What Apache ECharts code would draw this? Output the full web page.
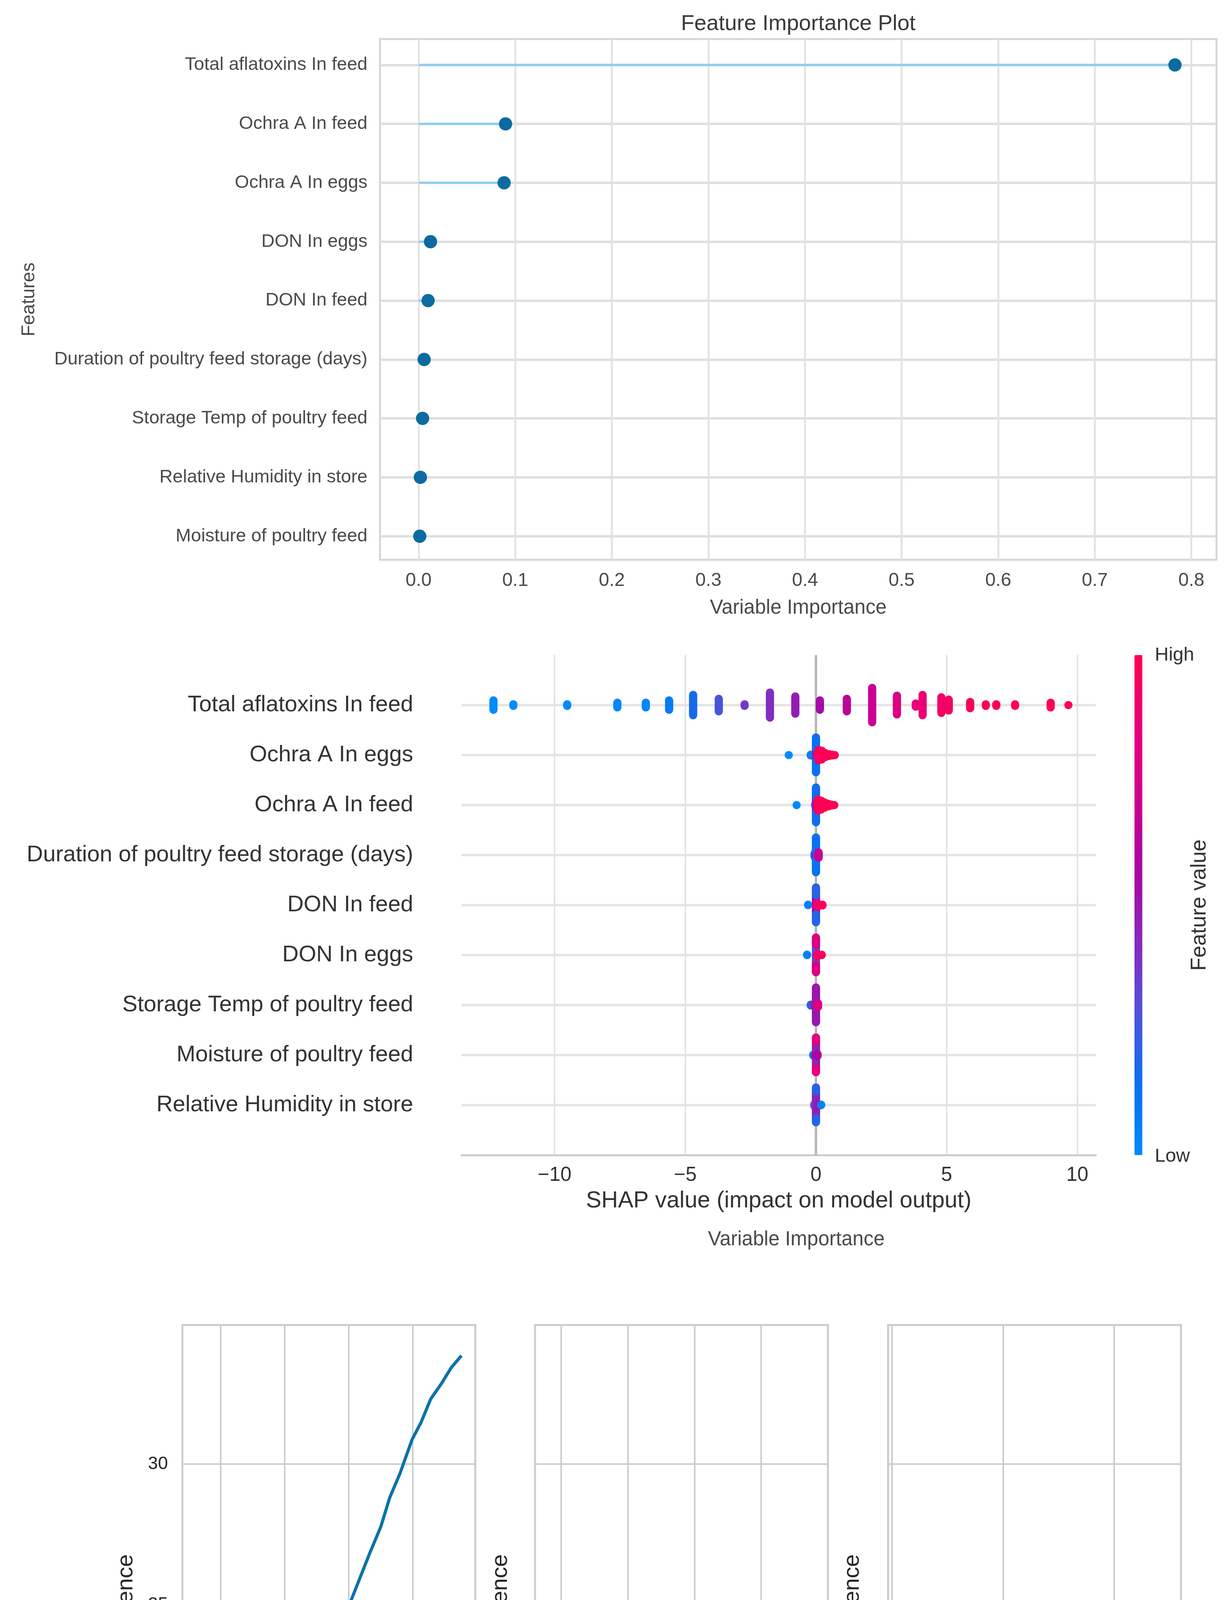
<!DOCTYPE html>
<html>
<head>
<meta charset="utf-8">
<script src="https://cdn.jsdelivr.net/npm/echarts@6/dist/echarts.min.js"></script>
<style>html,body{margin:0;padding:0;background:#ffffff}#c{width:3147px;height:5252px}</style>
</head>
<body>
<div id="c"></div>
<script>
// ---------- Panel 1: feature importance (top to bottom) ----------
const importanceFeatures = ['Total aflatoxins In feed','Ochra A In feed','Ochra A In eggs','DON In eggs','DON In feed','Duration of poultry feed storage (days)','Storage Temp of poultry feed','Relative Humidity in store','Moisture of poultry feed'];
const importanceValues = [0.783, 0.090, 0.0885, 0.0123, 0.0098, 0.0057, 0.0041, 0.0018, 0.0012];
const importanceTicks = [0, 0.1, 0.2, 0.3, 0.4, 0.5, 0.6, 0.7, 0.8];

// ---------- Panel 2: SHAP summary (top to bottom) ----------
const shapFeatures = ['Total aflatoxins In feed','Ochra A In eggs','Ochra A In feed','Duration of poultry feed storage (days)','DON In feed','DON In eggs','Storage Temp of poultry feed','Moisture of poultry feed','Relative Humidity in store'];
const shapTicks = [-10, -5, 0, 5, 10];
// clusters: [shap value, number of samples, normalised feature value]
const shapTotalAflatoxins = [[-12.34,13,0.0],[-11.58,3,0.0],[-9.52,3,0.01],[-7.6,7,0.02],[-6.51,7,0.03],[-5.62,13,0.08],[-4.70,27,0.17],[-3.72,17,0.27],[-2.73,3,0.36],[-1.76,33,0.41],[-0.79,23,0.47],[0.15,13,0.54],[1.18,17,0.64],[2.15,45,0.71],[3.1,25,0.79],[3.82,5,0.85],[4.08,27,0.88],[4.8,21,0.93],[5.08,15,0.94],[5.9,9,0.96],[6.5,3,0.97],[6.9,3,0.98],[7.62,3,0.98],[8.98,7,0.99],[9.66,1,1.0]];
const shapOchraEggs = [[-1.04,1,0.0],[-0.2,3,0.05],[0.0,12,0.95],[0.0,20,0.45],[0.0,48,0.12],[0.1,25,0.97],[0.22,21,0.98],[0.35,11,0.98],[0.5,5,0.99],[0.62,3,1.0],[0.72,1,1.0]];
const shapOchraFeed = [[-0.74,1,0.0],[-0.03,3,0.1],[0.0,14,0.92],[0.0,22,0.5],[0.0,44,0.15],[0.08,27,0.97],[0.2,21,0.98],[0.33,13,0.98],[0.48,7,0.99],[0.6,3,1.0],[0.7,1,1.0]];
const shapDuration = [[-0.05,9,0.1],[0.0,20,0.55],[0.0,60,0.13],[0.05,9,0.3],[0.1,13,0.7]];
const shapDONFeed = [[-0.3,2,0.05],[0.0,12,0.95],[0.0,30,0.6],[0.0,38,0.2],[0.06,9,0.9],[0.25,3,0.97]];
const shapDONEggs = [[-0.34,2,0.05],[0.0,14,0.35],[0.0,30,0.25],[0.0,36,0.8],[0.05,7,0.92],[0.22,2,0.95]];
const shapStorageTemp = [[-0.2,3,0.2],[-0.06,7,0.45],[0.0,16,0.85],[0.0,64,0.5],[0.08,9,0.8]];
const shapMoisture = [[-0.1,3,0.15],[0.0,20,0.65],[0.0,40,0.45],[0.0,20,0.85],[0.06,5,0.6]];
const shapHumidity = [[-0.06,5,0.35],[0.0,20,0.3],[0.0,40,0.45],[0.0,20,0.2],[0.07,7,0.5],[0.2,2,0.05]];
const shapColors = ['#008bfb','#0a6ff0','#5052da','#8a28bb','#aa04a2','#cc0090','#e8007a','#ff0052'];

// ---------- Panel 3: partial dependence ----------
const pdTotalX = [16.1,17.8,20.2,24.2,27.2,28.8,30.3,32.1,34.0,35.2,37.0,38.2,40.1,41.9,43.4,45.0,46.4,48.0,49.9,51.3,52.8,54.4,56.0,57.6];
const pdTotalY = [12.77,13.37,14.13,15.35,17.16,18.25,19.12,20.19,21.23,21.97,23.10,23.84,25.0,26.04,26.90,27.77,28.81,29.67,30.88,31.49,32.32,32.84,33.43,33.86];
const pdEggsX = [9.0,10.0,12.7,14.5,16.25,17.1,18.9,20.0,21.0,22.0,23.9,26.9,29.0];
const pdEggsY = [23.88,24.64,24.65,24.67,24.71,24.74,24.76,24.83,24.93,25.02,25.05,25.05,25.05];
const pdFeedX = [10.8,11.9,13.2,15.7,17.45,19.9,21.7,23.0,24.0,26.4,28.65,30.2,34.9];
const pdFeedY = [24.27,24.67,24.67,24.65,24.69,24.71,24.72,24.76,24.81,24.84,24.93,24.93,24.93];
const rugTotal = [30.4,32.1,36.9,38.5,41.7,43.4,45.0,46.6,48.2];
const rugEggs = [10,11,13,14,15,17,18,19,20];
const rugFeed = [12.0,13.2,15.6,16.8,18.0,20.4,21.6,22.8,24.0];
const pdYTicks = [15, 20, 25, 30];
const pdTotalTicks = [20, 30, 40, 50];
const pdEggsTicks = [10, 15, 20, 25, 30];
const pdFeedTicks = [10, 20, 30];
const pdNames = ['Total aflatoxins In feed', 'Ochra A In eggs', 'Ochra A In feed'];

// ---------- fonts / axis ranges ----------
const FONT = '"Liberation Sans", Arial, Helvetica, sans-serif';
const pdYMin = 11.69, pdYMax = 34.95;

// shap-style beeswarm layout of one feature row
function beeswarm(clusters, row) {
  const pts = [];
  clusters.forEach(c => { for (let k = 0; k < c[1]; k++) pts.push([c[0], c[2]]); });
  const xs = pts.map(p => p[0]);
  const mn = Math.min(...xs), mx = Math.max(...xs);
  const nbins = 100;
  const quant = pts.map(p => Math.round(nbins * (p[0] - mn) / (mx - mn + 1e-8)));
  const order = pts.map((p, i) => i).sort((a, b) => quant[a] - quant[b] || a - b);
  const ys = new Array(pts.length).fill(0);
  let layer = 0, last = -1;
  order.forEach(i => {
    if (quant[i] !== last) layer = 0;
    ys[i] = Math.ceil(layer / 2) * ((layer % 2) * 2 - 1);
    layer++; last = quant[i];
  });
  const m = Math.max(...ys.map(v => v + 1));
  const s = 0.9 * (0.4 / m);
  return pts.map((p, i) => [p[0], row - ys[i] * s, p[1]]);
}

const shapAll = [shapTotalAflatoxins, shapOchraEggs, shapOchraFeed, shapDuration, shapDONFeed, shapDONEggs, shapStorageTemp, shapMoisture, shapHumidity];
let shapPoints = [];
shapAll.forEach((c, i) => { shapPoints = shapPoints.concat(beeswarm(c, i)); });

const rows9 = [0,1,2,3,4,5,6,7,8];

function pdX(idx, min, max, ticks) {
  return {
    type: 'value', gridIndex: 2 + idx, min: min, max: max,
    axisLine: { show: false, onZero: false }, axisTick: { show: false, customValues: ticks },
    axisLabel: { customValues: ticks, fontSize: 46, color: '#262626', margin: 26, fontFamily: FONT },
    splitLine: { show: true, lineStyle: { color: '#cccccc', width: 4 } },
    name: pdNames[idx], nameLocation: 'middle', nameGap: 90,
    nameTextStyle: { fontSize: 58, color: '#262626', fontFamily: FONT }
  };
}
function pdY(idx, gap) {
  return {
    type: 'value', gridIndex: 2 + idx, min: pdYMin, max: pdYMax,
    axisLine: { show: false, onZero: false }, axisTick: { show: false, customValues: pdYTicks },
    axisLabel: { show: idx === 0, customValues: pdYTicks, fontSize: 46, color: '#262626', margin: 37, fontFamily: FONT },
    splitLine: { show: true, lineStyle: { color: '#cccccc', width: 4 } },
    name: 'Partial dependence', nameLocation: 'middle', nameRotate: 90, nameGap: gap,
    nameTextStyle: { fontSize: 58, color: '#262626', fontFamily: FONT }
  };
}
function rugSeries(idx, data) {
  return {
    type: 'custom', xAxisIndex: 2 + idx, yAxisIndex: 2 + idx, z: 4,
    data: data.map(v => [v]),
    renderItem: (p, api) => {
      const x = api.value(0);
      const a = api.coord([x, pdYMin]);
      const b = api.coord([x, pdYMin + 0.05 * (pdYMax - pdYMin)]);
      return { type: 'line', shape: { x1: a[0], y1: a[1], x2: b[0], y2: b[1] }, style: { stroke: '#111111', lineWidth: 9 } };
    }
  };
}
function pdLine(idx, xs, ys) {
  return {
    type: 'line', xAxisIndex: 2 + idx, yAxisIndex: 2 + idx, z: 3,
    data: xs.map((x, i) => [x, ys[i]]), showSymbol: false, symbol: 'none',
    lineStyle: { color: '#0873a9', width: 8 }
  };
}

const gridBase = { containLabel: false, outerBoundsMode: 'none' };

const option = {
  animation: false,
  backgroundColor: '#ffffff',
  textStyle: { fontFamily: FONT },
  grid: [
    Object.assign({ left: 973, top: 100, width: 2142, height: 1333, show: true, borderColor: '#d6d6d6', borderWidth: 5, backgroundColor: 'transparent' }, gridBase),
    Object.assign({ left: 1182, top: 1677, width: 1624, height: 1280, show: false }, gridBase),
    Object.assign({ left: 467, top: 3392, width: 750, height: 1674, show: true, borderColor: '#cccccc', borderWidth: 5 }, gridBase),
    Object.assign({ left: 1370, top: 3392, width: 750, height: 1674, show: true, borderColor: '#cccccc', borderWidth: 5 }, gridBase),
    Object.assign({ left: 2274, top: 3392, width: 750, height: 1674, show: true, borderColor: '#cccccc', borderWidth: 5 }, gridBase)
  ],
  xAxis: [
    {
      type: 'value', gridIndex: 0, min: -0.04, max: 0.826,
      axisLine: { show: false, onZero: false }, axisTick: { show: false, customValues: importanceTicks },
      axisLabel: { customValues: importanceTicks, formatter: v => v.toFixed(1), fontSize: 48, color: '#4a4a4a', margin: 30, fontFamily: FONT },
      splitLine: { show: true, lineStyle: { color: '#e3e3e3', width: 5 } },
      name: 'Variable Importance', nameLocation: 'middle', nameGap: 98,
      nameTextStyle: { fontSize: 51, color: '#4a4a4a', fontFamily: FONT }
    },
    {
      type: 'value', gridIndex: 1, min: -13.56, max: 10.71,
      axisLine: { show: true, onZero: false, lineStyle: { color: '#cccccc', width: 5 } },
      axisTick: { show: false, customValues: shapTicks },
      axisLabel: { customValues: shapTicks, formatter: v => (v < 0 ? '\u2212' + Math.abs(v) : String(v)), fontSize: 51, color: '#333333', margin: 26, fontFamily: FONT },
      splitLine: { show: true, lineStyle: { color: '#e2e2e2', width: 4 } },
      name: 'SHAP value (impact on model output)', nameLocation: 'middle', nameGap: 88,
      nameTextStyle: { fontSize: 59, color: '#333333', fontFamily: FONT }
    },
    pdX(0, 14.02, 59.76, pdTotalTicks),
    pdX(1, 8.04, 30.0, pdEggsTicks),
    pdX(2, 9.65, 36.0, pdFeedTicks)
  ],
  yAxis: [
    {
      type: 'value', gridIndex: 0, inverse: true, min: -0.44, max: 8.4,
      axisLine: { show: false, onZero: false }, axisTick: { show: false, customValues: rows9 },
      axisLabel: { customValues: rows9, formatter: v => importanceFeatures[Math.round(v)], fontSize: 47, color: '#4a4a4a', margin: 32, fontFamily: FONT },
      splitLine: { show: true, lineStyle: { color: '#dedede', width: 6 } },
      name: 'Features', nameLocation: 'middle', nameRotate: 90, nameGap: 874,
      nameTextStyle: { fontSize: 48, color: '#4a4a4a', fontFamily: FONT }
    },
    {
      type: 'value', gridIndex: 1, inverse: true, min: -1, max: 9,
      axisLine: { show: false, onZero: false }, axisTick: { show: false, customValues: rows9 },
      axisLabel: { customValues: rows9, formatter: v => shapFeatures[Math.round(v)], fontSize: 58, color: '#333333', margin: 124, fontFamily: FONT },
      splitLine: { show: true, lineStyle: { color: '#e4e4e4', width: 6 } }
    },
    pdY(0, 115), pdY(1, 59), pdY(2, 62)
  ],
  visualMap: [{
    type: 'continuous', min: 0, max: 1, dimension: 2, seriesIndex: 3,
    calculable: false, orient: 'vertical', left: 2905, top: 1677,
    itemWidth: 20, itemHeight: 1280, padding: 0, text: null, showLabel: false,
    inRange: { color: shapColors }
  }],
  series: [
    {
      type: 'custom', xAxisIndex: 0, yAxisIndex: 0, z: 3,
      data: importanceValues.map((v, i) => [v, i]),
      renderItem: (p, api) => {
        const y = api.value(1);
        const a = api.coord([0, y]);
        const b = api.coord([api.value(0), y]);
        return { type: 'line', shape: { x1: a[0], y1: a[1], x2: b[0], y2: b[1] }, style: { stroke: '#8ecdf0', lineWidth: 6 } };
      }
    },
    {
      type: 'scatter', xAxisIndex: 0, yAxisIndex: 0, z: 4,
      data: importanceValues.map((v, i) => [v, i]),
      symbolSize: 34, itemStyle: { color: '#0b6ba1', opacity: 1 }
    },
    {
      type: 'custom', xAxisIndex: 1, yAxisIndex: 1, z: 2,
      data: [[0]],
      renderItem: (p, api) => {
        const a = api.coord([0, -1]);
        const b = api.coord([0, 9]);
        return { type: 'line', shape: { x1: a[0], y1: a[1], x2: b[0], y2: b[1] }, style: { stroke: '#b5b5b5', lineWidth: 6 } };
      }
    },
    {
      type: 'scatter', xAxisIndex: 1, yAxisIndex: 1, z: 4,
      data: shapPoints, symbolSize: 21, itemStyle: { opacity: 1 }
    },
    pdLine(0, pdTotalX, pdTotalY),
    pdLine(1, pdEggsX, pdEggsY),
    pdLine(2, pdFeedX, pdFeedY),
    rugSeries(0, rugTotal),
    rugSeries(1, rugEggs),
    rugSeries(2, rugFeed)
  ],
  graphic: [
    { type: 'text', x: 2044, y: 62, style: { text: 'Feature Importance Plot', fontSize: 56, fill: '#3a3a3a', fontFamily: FONT, textAlign: 'center', textVerticalAlign: 'middle', verticalAlign: 'middle' } },
    { type: 'text', x: 2039, y: 3174, style: { text: 'Variable Importance', fontSize: 51, fill: '#4a4a4a', fontFamily: FONT, textAlign: 'center', textVerticalAlign: 'middle', verticalAlign: 'middle' } },
    { type: 'text', x: 2957, y: 1677, style: { text: 'High', fontSize: 49, fill: '#333333', fontFamily: FONT, textAlign: 'left', textVerticalAlign: 'middle', verticalAlign: 'middle' } },
    { type: 'text', x: 2957, y: 2960, style: { text: 'Low', fontSize: 49, fill: '#333333', fontFamily: FONT, textAlign: 'left', textVerticalAlign: 'middle', verticalAlign: 'middle' } },
    { type: 'text', x: 3072, y: 2317, rotation: Math.PI / 2, style: { text: 'Feature value', fontSize: 55, fill: '#333333', fontFamily: FONT, textAlign: 'center', textVerticalAlign: 'middle', verticalAlign: 'middle' } }
  ]
};

const chart = echarts.init(document.getElementById('c'), null, { renderer: 'canvas', width: 3147, height: 5252 });
chart.setOption(option);
</script>
</body>
</html>
